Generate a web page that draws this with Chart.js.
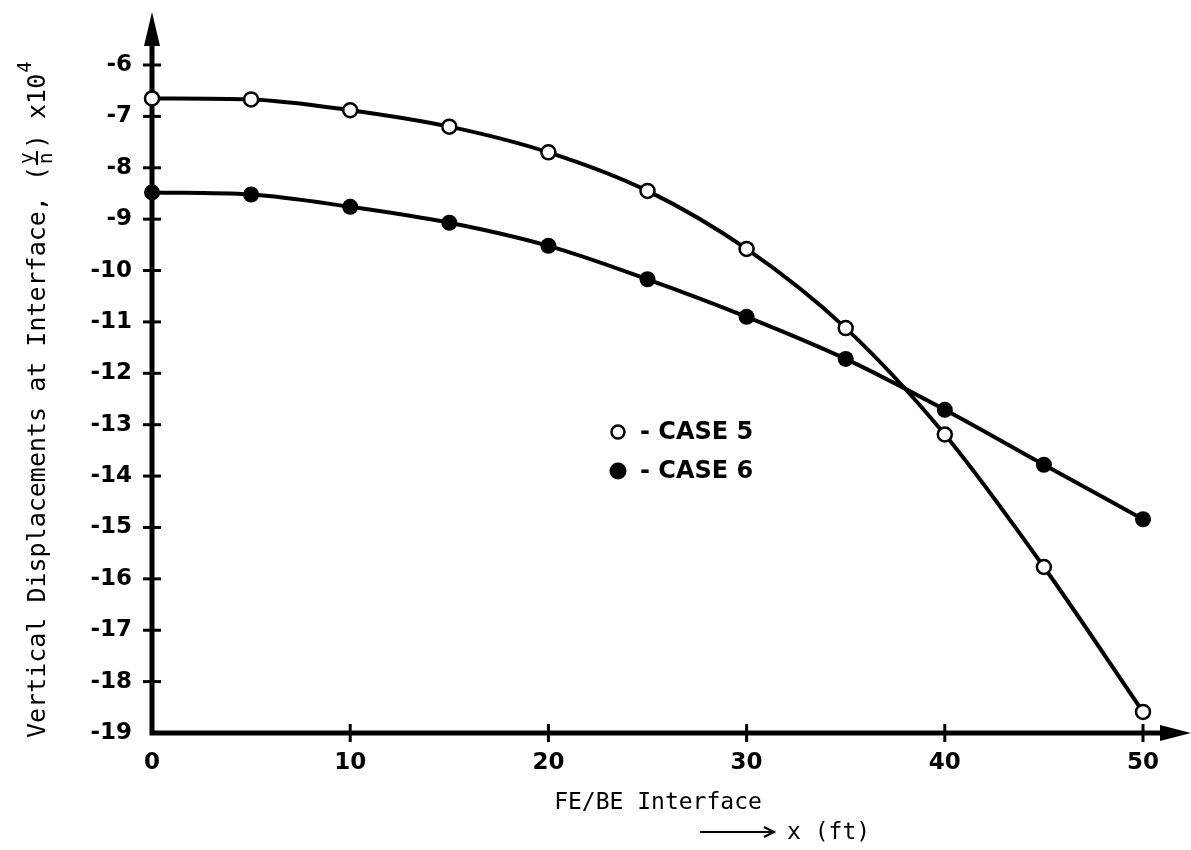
<!DOCTYPE html>
<html>
<head>
<meta charset="utf-8">
<script src="https://cdn.jsdelivr.net/npm/chart.js@4.4.0/dist/chart.umd.min.js"></script>
<style>
  html, body { margin: 0; padding: 0; background: #fff; }
  canvas { display: block; }
</style>
</head>
<body>
<canvas id="chart" width="1191" height="850"></canvas>
<script>
// values
const xPositions = [0, 5, 10, 15, 20, 25, 30, 35, 40, 45, 50];
const case5 = [-6.65, -6.67, -6.88, -7.20, -7.70, -8.45, -9.58, -11.12, -13.19, -15.77, -18.59];
const case6 = [-8.48, -8.52, -8.76, -9.07, -9.52, -10.17, -10.90, -11.72, -12.71, -13.78, -14.84];
const xTicks = [0, 10, 20, 30, 40, 50];
const yMin = -19, yMax = -6;

const legendItems = ['- CASE 5', '- CASE 6'];
const xTitle = 'FE/BE Interface';
const xUnit = 'x (ft)';

const toPoints = (ys) => xPositions.map((x, i) => ({ x: x, y: ys[i] }));

const INK = '#000';
const MONO = '"DejaVu Sans Mono", monospace';
const BOLD = 'bold 24px "DejaVu Sans", sans-serif';
const tickFont = { family: 'DejaVu Sans', size: 23, weight: 'bold' };

// axes with arrows + crossing tick marks
const axesPlugin = {
    id: 'axesPlugin',
    beforeDatasetsDraw(chart) {
        const { ctx, chartArea: a, scales: { x, y } } = chart;
        ctx.save();
        ctx.strokeStyle = INK;
        ctx.fillStyle = INK;
        ctx.lineCap = 'butt';
        ctx.lineWidth = 5;
        ctx.beginPath();
        ctx.moveTo(a.left, 40);
        ctx.lineTo(a.left, a.bottom);
        ctx.lineTo(1165, a.bottom);
        ctx.stroke();
        // arrow heads
        ctx.beginPath();
        ctx.moveTo(a.left, 12);
        ctx.lineTo(a.left - 8, 46);
        ctx.lineTo(a.left + 8, 46);
        ctx.closePath();
        ctx.fill();
        ctx.beginPath();
        ctx.moveTo(1191, a.bottom);
        ctx.lineTo(1160, a.bottom - 8);
        ctx.lineTo(1160, a.bottom + 8);
        ctx.closePath();
        ctx.fill();
        // ticks
        ctx.lineWidth = 3;
        for (let v = yMin + 1; v <= yMax; v++) {
            const py = y.getPixelForValue(v);
            ctx.beginPath();
            ctx.moveTo(a.left - 9, py);
            ctx.lineTo(a.left + 9, py);
            ctx.stroke();
        }
        xTicks.slice(1).forEach(v => {
            const px = x.getPixelForValue(v);
            ctx.beginPath();
            ctx.moveTo(px, a.bottom - 9);
            ctx.lineTo(px, a.bottom + 9);
            ctx.stroke();
        });
        ctx.restore();
    },
    afterDraw(chart) {
        const { ctx } = chart;
        ctx.save();
        ctx.fillStyle = INK;
        ctx.strokeStyle = INK;

        // legend inside the plot
        ctx.font = BOLD;
        ctx.textBaseline = 'middle';
        ctx.textAlign = 'left';
        const lx = 618, ly = [432, 471];
        ctx.lineWidth = 2.5;
        ctx.beginPath();
        ctx.arc(lx, ly[0], 6.5, 0, Math.PI * 2);
        ctx.fillStyle = '#fff';
        ctx.fill();
        ctx.stroke();
        ctx.fillStyle = INK;
        ctx.beginPath();
        ctx.arc(lx, ly[1], 8.5, 0, Math.PI * 2);
        ctx.fill();
        legendItems.forEach((t, i) => ctx.fillText(t, 640, ly[i] + 1));

        // x axis title
        ctx.font = '23px ' + MONO;
        ctx.textAlign = 'center';
        ctx.fillText(xTitle, 658, 803);
        ctx.textAlign = 'left';
        ctx.fillText(xUnit, 787, 833);
        ctx.lineWidth = 2;
        ctx.beginPath();
        ctx.moveTo(700, 832);
        ctx.lineTo(772, 832);
        ctx.stroke();
        ctx.beginPath();
        ctx.moveTo(764, 827);
        ctx.lineTo(774, 832);
        ctx.lineTo(764, 837);
        ctx.stroke();

        // y axis title, rotated, with stacked (y/n) fraction
        ctx.translate(45, 738);
        ctx.rotate(-Math.PI / 2);
        ctx.textBaseline = 'alphabetic';
        ctx.font = '25px ' + MONO;
        const main = 'Vertical Displacements at Interface, (';
        ctx.fillText(main, 0, 0);
        let cx = ctx.measureText(main).width + 2;
        ctx.font = '19px ' + MONO;
        ctx.fillText('y', cx, -12);
        ctx.fillText('n', cx, 7);
        ctx.lineWidth = 2;
        ctx.beginPath();
        ctx.moveTo(cx - 1, -8);
        ctx.lineTo(cx + 13, -8);
        ctx.stroke();
        cx += 15;
        ctx.font = '25px ' + MONO;
        ctx.fillText(') x10', cx, 0);
        cx += ctx.measureText(') x10').width + 1;
        ctx.font = '19px ' + MONO;
        ctx.fillText('4', cx, -14);
        ctx.restore();
    }
};

const ctx = document.getElementById('chart').getContext('2d');
new Chart(ctx, {
    type: 'line',
    data: {
        datasets: [
            {
                label: 'CASE 5',
                data: toPoints(case5),
                borderColor: INK,
                borderWidth: 4,
                pointRadius: 7,
                pointBorderWidth: 2.5,
                pointBackgroundColor: '#fff',
                pointBorderColor: INK,
                cubicInterpolationMode: 'monotone',
                clip: false
            },
            {
                label: 'CASE 6',
                data: toPoints(case6),
                borderColor: INK,
                borderWidth: 4,
                pointRadius: 8,
                pointBorderWidth: 0,
                pointBackgroundColor: INK,
                pointBorderColor: INK,
                cubicInterpolationMode: 'monotone',
                clip: false
            }
        ]
    },
    options: {
        responsive: false,
        animation: false,
        devicePixelRatio: 1,
        layout: { padding: { top: 65, right: 48, left: 0, bottom: 0 } },
        plugins: { legend: { display: false }, tooltip: { enabled: false } },
        scales: {
            x: {
                type: 'linear',
                min: 0,
                max: 50,
                afterFit: (s) => { s.height = 117; },
                afterBuildTicks: (s) => { s.ticks = xTicks.map(v => ({ value: v })); },
                grid: { display: false, drawTicks: false },
                border: { display: false },
                ticks: { color: INK, font: tickFont, padding: 16, maxRotation: 0 }
            },
            y: {
                min: yMin,
                max: yMax,
                afterFit: (s) => { s.width = 152; },
                grid: { display: false, drawTicks: false },
                border: { display: false },
                ticks: { stepSize: 1, color: INK, font: tickFont, padding: 20 }
            }
        }
    },
    plugins: [axesPlugin]
});
</script>
</body>
</html>
